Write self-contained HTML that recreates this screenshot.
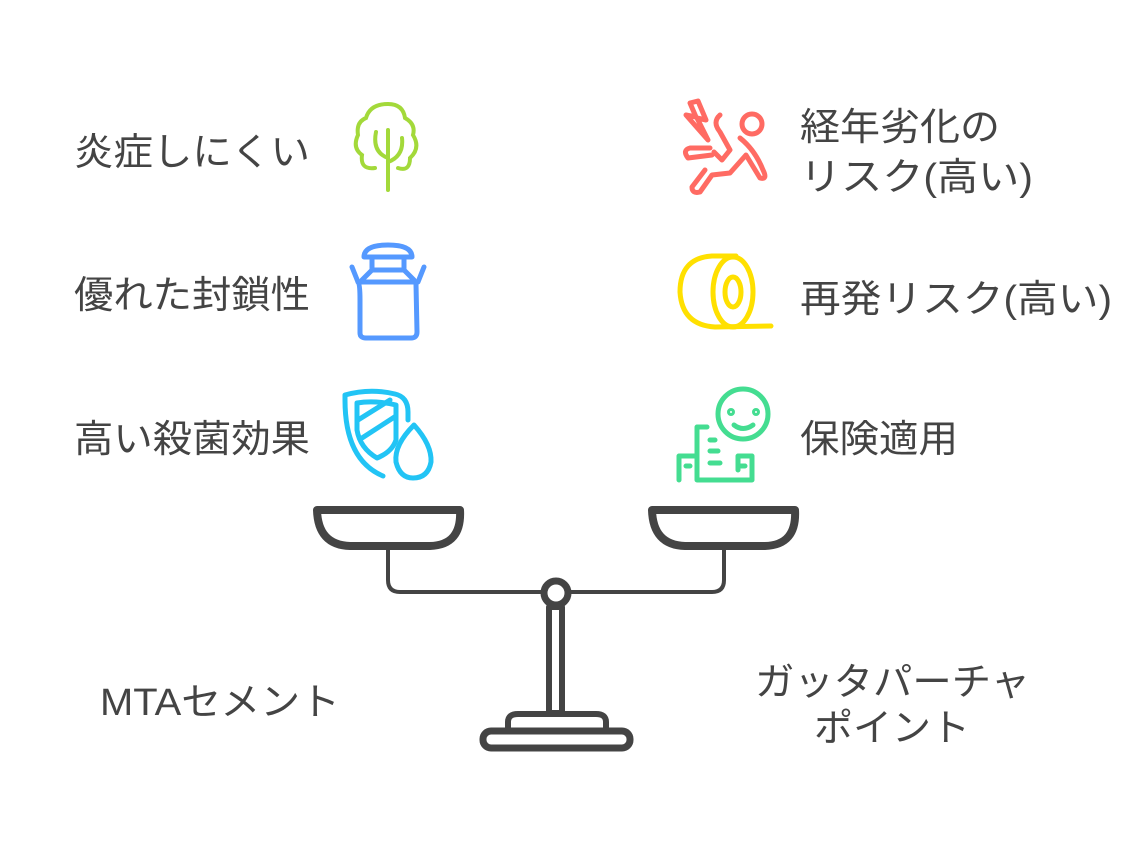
<!DOCTYPE html>
<html><head><meta charset="utf-8"><style>
html,body{margin:0;padding:0;background:#fff;}
svg{display:block}
text{font-family:"Liberation Sans","Noto Sans CJK JP",sans-serif;fill:#444;}
</style></head><body>
<svg width="1148" height="848" viewBox="0 0 1148 848" xmlns="http://www.w3.org/2000/svg">
<g font-size="38">
<text x="74" y="165" textLength="236" lengthAdjust="spacingAndGlyphs">炎症しにくい</text>
<text x="74" y="308" textLength="236" lengthAdjust="spacingAndGlyphs">優れた封鎖性</text>
<text x="74" y="452" textLength="236" lengthAdjust="spacingAndGlyphs">高い殺菌効果</text>
<text x="800" y="140" textLength="200" lengthAdjust="spacingAndGlyphs">経年劣化の</text>
<text x="800" y="190" textLength="233" lengthAdjust="spacingAndGlyphs">リスク(高い)</text>
<text x="800" y="312" textLength="312" lengthAdjust="spacingAndGlyphs">再発リスク(高い)</text>
<text x="800" y="452" textLength="158" lengthAdjust="spacingAndGlyphs">保険適用</text>
</g>
<g font-size="38">
<text x="100" y="715" textLength="240" lengthAdjust="spacingAndGlyphs">MTAセメント</text>
<text x="755" y="695" textLength="275" lengthAdjust="spacingAndGlyphs">ガッタパーチャ</text>
<text x="814" y="741" textLength="156" lengthAdjust="spacingAndGlyphs">ポイント</text>
</g>
<!-- scale -->
<g fill="none" stroke="#444" stroke-linecap="round" stroke-linejoin="round">
<path d="M317 510 L460 510 Q462 545 430 546 L350 546 Q318 545 317 510 Z" stroke-width="8"/>
<path d="M652 510 L795 510 Q797 545 765 546 L685 546 Q653 545 652 510 Z" stroke-width="8"/>
<path d="M388 548 L388 580 Q388 592 400 592 L712 592 Q724 592 724 580 L724 548" stroke-width="4"/>
<circle cx="556" cy="593" r="12" stroke-width="7" fill="#fff"/>
<rect x="549" y="607" width="13" height="106" stroke-width="6"/>
<path d="M508 731 L508 722 Q508 714 518 714 L596 714 Q606 714 606 722 L606 731" stroke-width="6"/>
<rect x="483" y="731" width="147" height="17" rx="8" stroke-width="7"/>
</g>
<!-- tree -->
<g fill="none" stroke="#a3d93a" stroke-width="4" stroke-linecap="round">
<path d="M388 190 L388 130 M388 158 Q372 152 376 132 M388 162 Q404 156 402 138"/>
<path d="M375 168 Q360 170 362 155 Q352 148 358 135 Q356 122 366 118 Q370 104 388 104 Q403 104 405 118 Q416 124 413 135 Q421 148 410 158 Q410 172 398 168"/>
</g>
<!-- milk can -->
<g fill="none" stroke="#5599ff" stroke-width="5" stroke-linecap="round" stroke-linejoin="round">
<path d="M364 257 Q364 245 388 245 Q412 245 412 257 Z"/>
<path d="M372 257 L372 270 L404 270 L404 257"/>
<path d="M352 267 L358 282 L418 282 L424 267"/>
<path d="M358 282 Q360 284 360 300 L360 333 Q360 338 366 338 L411 338 Q417 338 417 332 L416 284"/>
<path d="M372 270 L362 280 M404 270 L414 280"/>
</g>
<!-- shield drop -->
<g fill="none" stroke="#22c4f5" stroke-width="5" stroke-linecap="round" stroke-linejoin="round">
<path d="M383 476 Q345 460 345 400 L345 395 Q370 388 395 394 Q408 397 408 412 L408 420"/>
<path d="M357 403 L357 430 Q360 448 377 458 Q392 452 396 440 L396 405 Q375 400 357 403 Z"/>
<path d="M358 420 L390 400 M362 438 L396 416"/>
<path d="M414 425 Q394 445 396 462 Q400 478 413 478 Q428 478 431 462 Q432 445 414 425 Z"/>
</g>
<!-- falling person -->
<g fill="none" stroke="#ff6b63" stroke-width="5" stroke-linecap="round" stroke-linejoin="round">
<path d="M690 103 L698 101 L706 120 L697 118 L708 140 L686 115 L696 117 Z"/>
<circle cx="752" cy="124" r="10"/>
<path d="M720 115 Q712 122 720 132 L730 150 L722 160 L714 152 M740 138 Q755 150 763 170 Q768 180 760 178 L746 155 L730 173 L712 175 L700 192 Q692 194 692 187 L705 170 M712 155 L688 158 Q682 150 690 148 L710 148"/>
</g>
<!-- tape roll -->
<g fill="none" stroke="#ffe000" stroke-width="5" stroke-linecap="round">
<path d="M736 256 L712 256 Q680 258 680 292 Q682 325 715 327 L771 326"/>
<ellipse cx="733" cy="292" rx="20" ry="35"/>
<ellipse cx="733" cy="292" rx="8" ry="15"/>
</g>
<!-- happy building -->
<g fill="none" stroke="#44dd91" stroke-width="5" stroke-linecap="round" stroke-linejoin="round">
<circle cx="743" cy="414" r="25"/>
<circle cx="731" cy="412" r="1.5"/><circle cx="756" cy="412" r="1.5"/>
<path d="M734 425 Q743 432 753 425"/>
<path d="M697 480 L697 427 L707 427 M679 480 L679 456 L697 456 M697 480 L752 480 L752 456 L738 456 L738 470"/>
<path d="M710 440 L715 440 M710 451 L718 451 M710 463 L720 463 M686 466 L690 466 M741 466 L745 466"/>
</g>
</svg>
</body></html>
